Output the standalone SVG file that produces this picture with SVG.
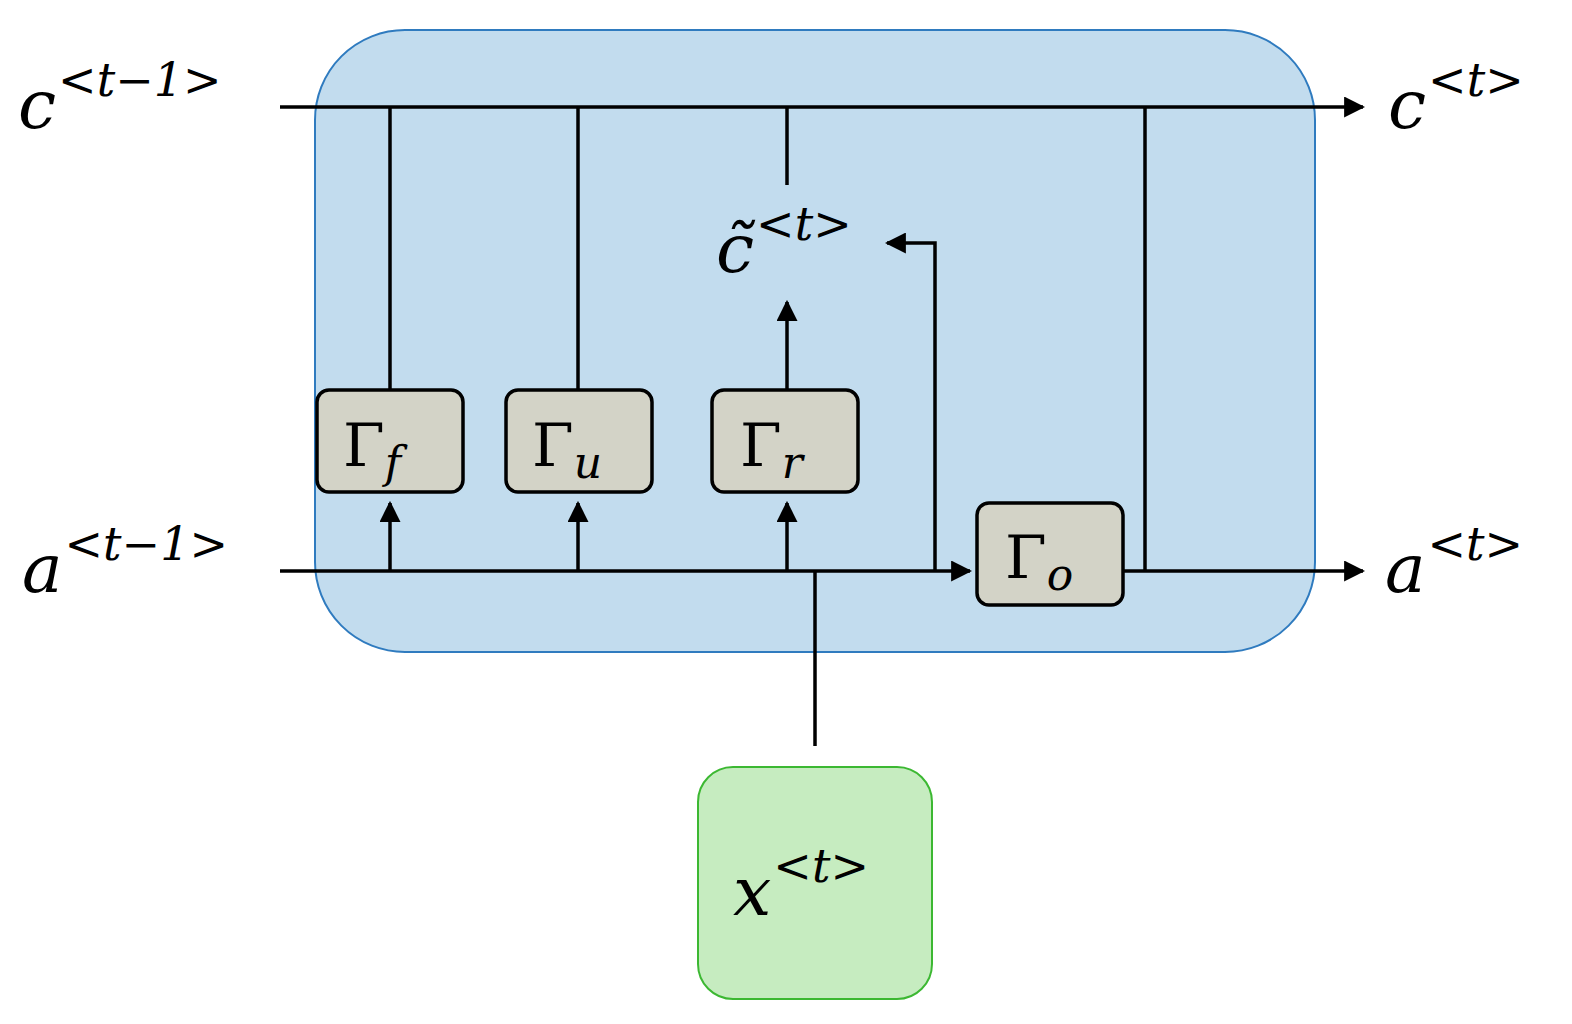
<svg xmlns="http://www.w3.org/2000/svg" width="1572" height="1024" viewBox="0 0 1572 1024">
<style>
.l{stroke:#000;stroke-width:3.5;fill:none}
.g{fill:#d3d3c7;stroke:#000;stroke-width:3.5}
.t{font-family:"DejaVu Serif","Liberation Serif",serif;font-style:italic;font-size:68px}
.s{font-family:"DejaVu Serif","Liberation Serif",serif;font-size:46px}
.G{font-family:"DejaVu Serif","Liberation Serif",serif;font-size:60px}
.i{font-style:italic}
</style>
<defs><marker id="a" viewBox="0 0 10 10" refX="9" refY="5" markerWidth="6" markerHeight="6" orient="auto"><path d="M0,0L10,5L0,10z"/></marker></defs>
<rect id="cell" x="315" y="30" width="1000" height="622" rx="90" fill="#c2dcee" stroke="#2f7bbf" stroke-width="2"/>
<g id="connectors">
<line class="l" x1="280" y1="107" x2="1363" y2="107" marker-end="url(#a)"/>
<line class="l" x1="280" y1="571" x2="970" y2="571" marker-end="url(#a)"/>
<line class="l" x1="1123" y1="571" x2="1363" y2="571" marker-end="url(#a)"/>
<line class="l" x1="390" y1="107" x2="390" y2="390"/>
<line class="l" x1="578" y1="107" x2="578" y2="390"/>
<line class="l" x1="787" y1="107" x2="787" y2="185"/>
<line class="l" x1="787" y1="390" x2="787" y2="302" marker-end="url(#a)"/>
<line class="l" x1="1145" y1="107" x2="1145" y2="571"/>
<line class="l" x1="390" y1="571" x2="390" y2="503" marker-end="url(#a)"/>
<line class="l" x1="578" y1="571" x2="578" y2="503" marker-end="url(#a)"/>
<line class="l" x1="787" y1="571" x2="787" y2="503" marker-end="url(#a)"/>
<polyline class="l" points="935,571 935,243 887,243" marker-end="url(#a)"/>
<line class="l" x1="815" y1="571" x2="815" y2="746"/>
</g>
<g id="gf"><rect class="g" x="317" y="390" width="146" height="102" rx="12"/><text x="343" y="466" class="G">Γ<tspan class="i" font-size="44" dy="12">f</tspan></text></g>
<g id="gu"><rect class="g" x="506" y="390" width="146" height="102" rx="12"/><text x="532" y="466" class="G">Γ<tspan class="i" font-size="44" dy="12">u</tspan></text></g>
<g id="gr"><rect class="g" x="712" y="390" width="146" height="102" rx="12"/><text x="740" y="466" class="G">Γ<tspan class="i" font-size="44" dy="12">r</tspan></text></g>
<g id="go"><rect class="g" x="977" y="503" width="146" height="102" rx="12"/><text x="1005" y="578" class="G">Γ<tspan class="i" font-size="44" dy="12">o</tspan></text></g>
<g id="x"><rect x="698" y="767" width="234" height="232" rx="35" fill="#c6ecc0" stroke="#3cb832" stroke-width="2"/><text x="733" y="915" class="t">x<tspan class="s" dy="-33" dx="2">&lt;<tspan class="i">t</tspan>&gt;</tspan></text></g>
<g id="labels">
<text x="18" y="128" class="t">c<tspan class="s" dy="-32" dx="2">&lt;<tspan class="i">t</tspan>−1&gt;</tspan></text>
<text x="22" y="592" class="t">a<tspan class="s" dy="-32" dx="2">&lt;<tspan class="i">t</tspan>−1&gt;</tspan></text>
<text x="1388" y="128" class="t">c<tspan class="s" dy="-32" dx="2">&lt;<tspan class="i">t</tspan>&gt;</tspan></text>
<text x="1385" y="592" class="t">a<tspan class="s" dy="-32" dx="2">&lt;<tspan class="i">t</tspan>&gt;</tspan></text>
<text x="716" y="272" class="t">c̃<tspan class="s" dy="-32" dx="2">&lt;<tspan class="i">t</tspan>&gt;</tspan></text>
</g>
</svg>
